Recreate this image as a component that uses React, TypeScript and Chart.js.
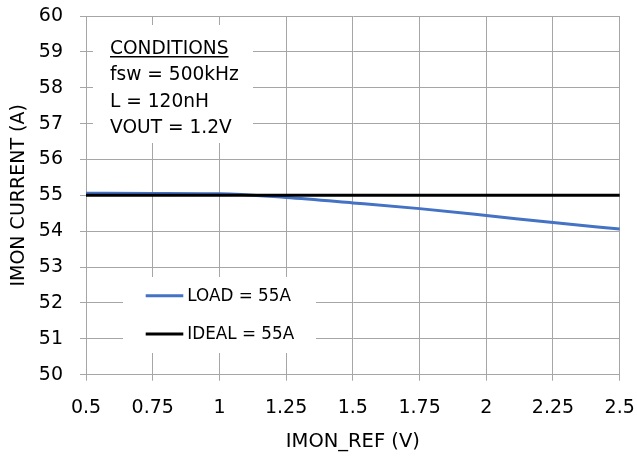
import React, { useEffect, useRef } from "react";
import { Chart, registerables } from "chart.js";

Chart.register(...registerables);

const xLabels = ["0.5", "0.75", "1", "1.25", "1.5", "1.75", "2", "2.25", "2.5"];
const loadValues = [55.06, 55.055, 55.045, 54.94, 54.79, 54.63, 54.44, 54.24, 54.06];
const idealValues = [55, 55, 55, 55, 55, 55, 55, 55, 55];
const seriesNames = ["LOAD = 55A", "IDEAL = 55A"];
const conditionsTitle = "CONDITIONS";
const conditionsLines = ["fsw = 500kHz", "L = 120nH", "VOUT = 1.2V"];
const xTitle = "IMON_REF (V)";
const yTitle = "IMON CURRENT (A)";
const yMin = 50;
const yMax = 60;

const FONT = "'DejaVu Sans', sans-serif";
const GRID = "#a6a6a6";

const overlayPlugin = {
  id: "overlay",
  beforeDatasetsDraw(chart: any) {
    const { ctx, chartArea } = chart;
    const L = chartArea.left;
    const T = chartArea.top;
    ctx.save();
    ctx.fillStyle = "#ffffff";
    // conditions box
    ctx.fillRect(L + 7, T + 9, 160, 118);
    // legend box
    ctx.fillRect(L + 37, T + 261, 193, 76);
    ctx.restore();
  },
  afterDatasetsDraw(chart: any) {
    const { ctx, chartArea } = chart;
    const L = chartArea.left;
    const T = chartArea.top;
    ctx.save();
    // conditions text
    ctx.fillStyle = "#000000";
    ctx.font = `18.6px ${FONT}`;
    ctx.textBaseline = "alphabetic";
    ctx.textAlign = "left";
    const tx = L + 24;
    ctx.fillText(conditionsTitle, tx, T + 37.5);
    const w = ctx.measureText(conditionsTitle).width;
    ctx.fillRect(tx, T + 40, w, 1.5);
    conditionsLines.forEach((line, i) => {
      ctx.fillText(line, tx, T + 64 + i * 26.7);
    });
    // legend
    ctx.font = `16.8px ${FONT}`;
    ctx.textBaseline = "middle";
    const ys = [T + 279.7, T + 318];
    chart.data.datasets.forEach((ds: any, i: number) => {
      const y = ys[i];
      ctx.strokeStyle = ds.borderColor;
      ctx.lineWidth = 3;
      ctx.beginPath();
      ctx.moveTo(L + 59.7, y);
      ctx.lineTo(L + 97.3, y);
      ctx.stroke();
      ctx.fillStyle = "#000000";
      ctx.fillText(ds.label, L + 101.3, y + 1);
    });
    ctx.restore();
  },
};

export default function App() {
  const canvasRef = useRef<HTMLCanvasElement | null>(null);

  useEffect(() => {
    document.body.style.margin = "0";
    const canvas = canvasRef.current;
    if (!canvas) return;
    const chart = new Chart(canvas, {
      type: "line",
      data: {
        labels: xLabels,
        datasets: [
          {
            label: seriesNames[0],
            data: loadValues,
            borderColor: "#4472C4",
            backgroundColor: "#4472C4",
            borderWidth: 3,
            pointRadius: 0,
            cubicInterpolationMode: "monotone",
            order: 1,
          },
          {
            label: seriesNames[1],
            data: idealValues,
            borderColor: "#000000",
            backgroundColor: "#000000",
            borderWidth: 3,
            pointRadius: 0,
            tension: 0,
            order: 0,
          },
        ],
      },
      options: {
        animation: false,
        responsive: false,
        maintainAspectRatio: false,
        layout: { padding: { left: 0, top: 16, right: 17.3, bottom: 0 } },
        plugins: {
          legend: { display: false },
          tooltip: { enabled: false },
        },
        scales: {
          x: {
            type: "category",
            offset: false,
            grid: {
              color: GRID,
              lineWidth: 1,
              tickLength: 6,
              drawTicks: true,
            },
            border: { color: GRID, width: 1 },
            ticks: {
              color: "#000000",
              font: { family: FONT, size: 19 },
              autoSkip: false,
              maxRotation: 0,
              padding: 16,
            },
            title: {
              display: true,
              text: xTitle,
              color: "#000000",
              font: { family: FONT, size: 19.5 },
              padding: { top: 4, bottom: 6 },
            },
            afterFit(scale: any) {
              scale.height = 460 - 374.7;
              scale.paddingLeft = 0;
              scale.paddingRight = 0;
            },
          },
          y: {
            min: yMin,
            max: yMax,
            grid: {
              color: GRID,
              lineWidth: 1,
              tickLength: 6,
              drawTicks: true,
            },
            border: { color: GRID, width: 1 },
            ticks: {
              stepSize: 1,
              color: "#000000",
              font: { family: FONT, size: 19 },
              padding: 17,
            },
            title: {
              display: true,
              text: yTitle,
              color: "#000000",
              font: { family: FONT, size: 19 },
              padding: { top: 8, bottom: 4 },
            },
            afterFit(scale: any) {
              scale.width = 86;
              scale.paddingTop = 0;
              scale.paddingBottom = 0;
            },
          },
        },
      },
      plugins: [overlayPlugin],
    });
    return () => chart.destroy();
  }, []);

  return (
    <div style={{ width: 637, height: 460, background: "#ffffff" }}>
      <canvas ref={canvasRef} width={637} height={460} style={{ display: "block" }} />
    </div>
  );
}
